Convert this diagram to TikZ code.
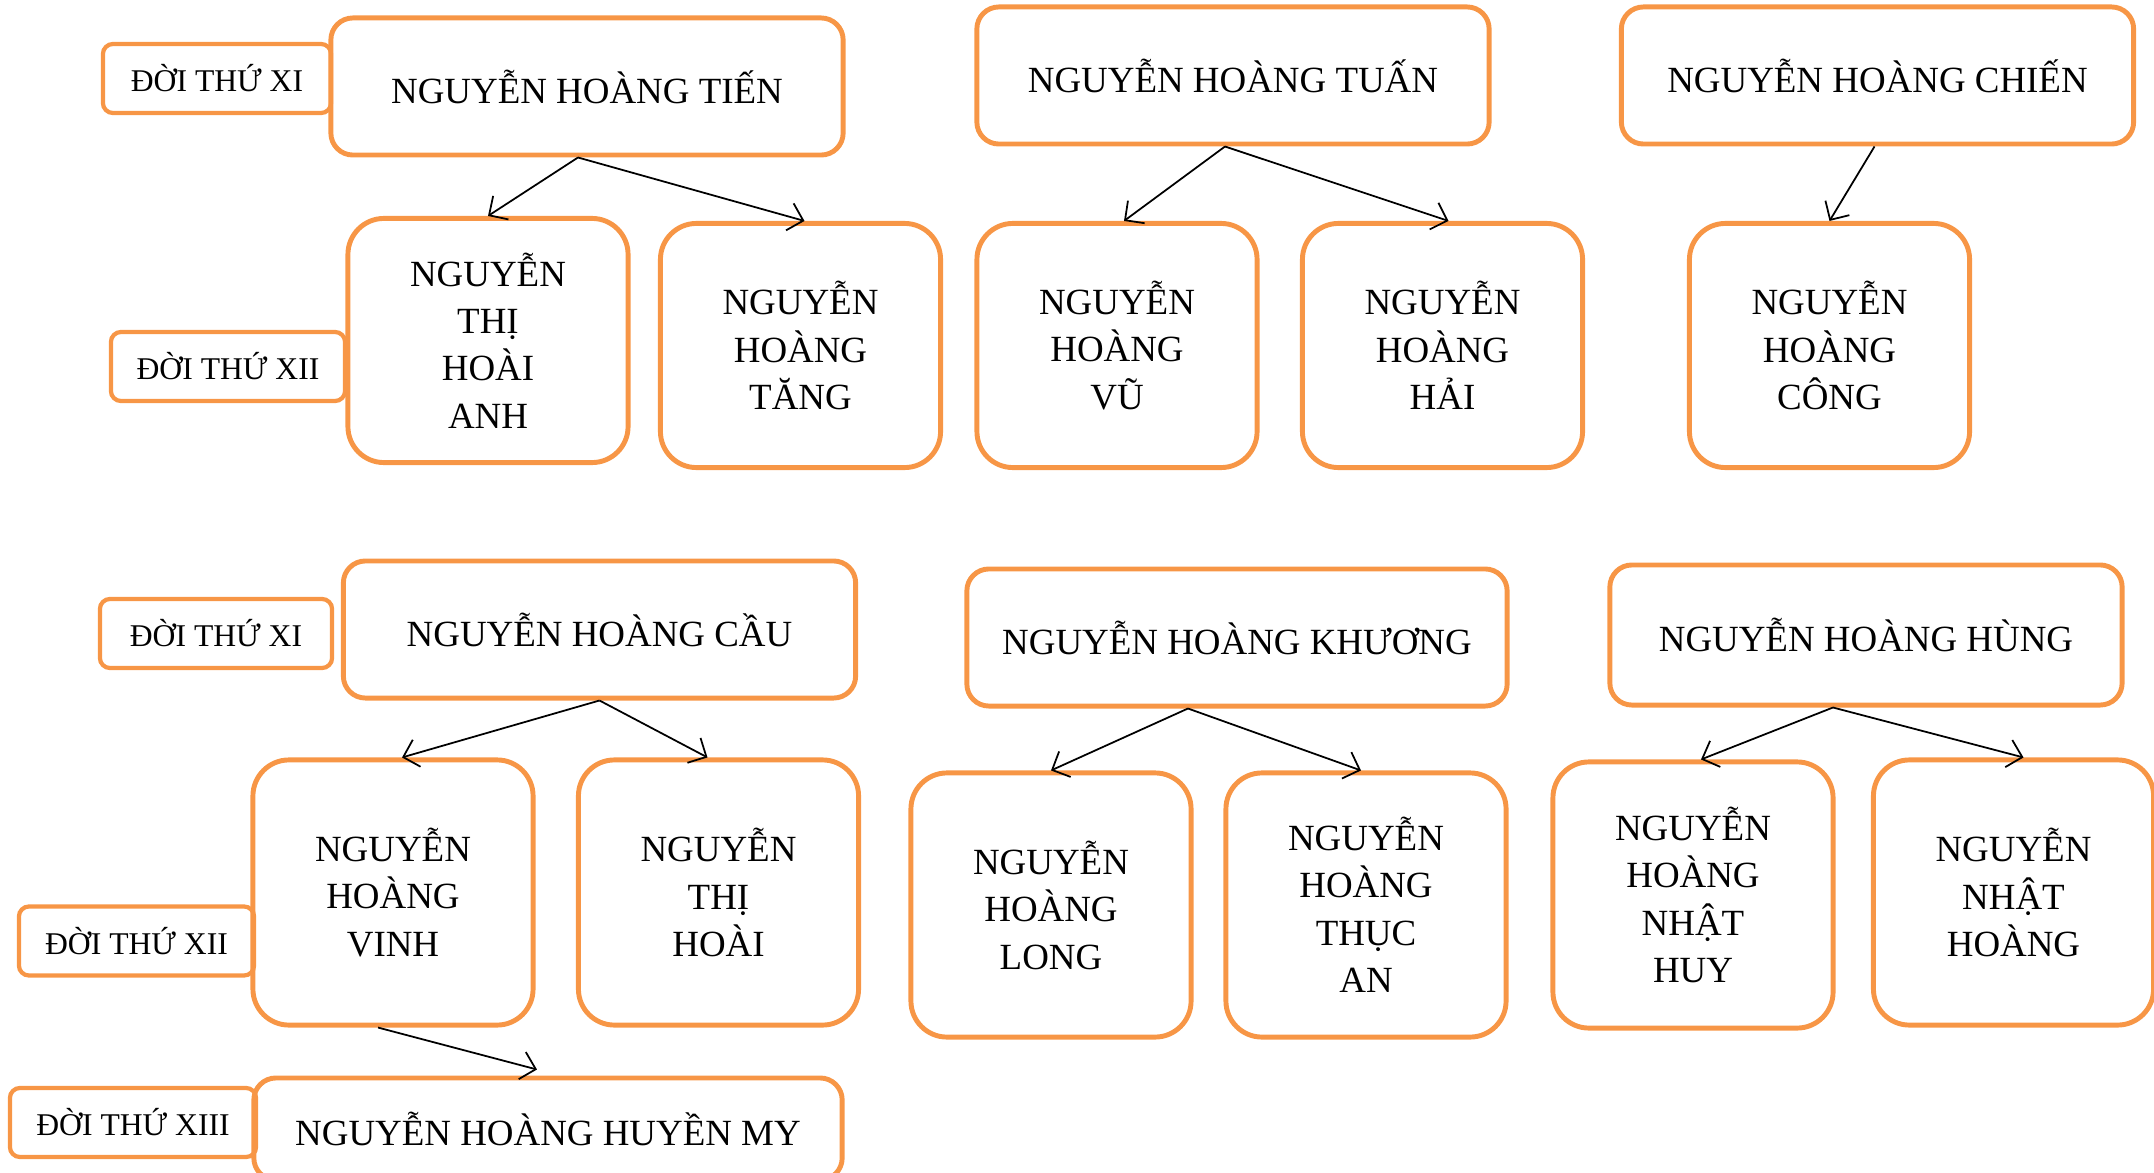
\documentclass[tikz,border=0pt]{standalone}
\usepackage{fontspec}
\setmainfont{Liberation Serif}
\usetikzlibrary{arrows.meta}
\definecolor{boxorange}{HTML}{F79646}

\begin{document}
\begin{tikzpicture}[x=0.01cm,y=-0.01cm,->,>={Straight Barb[length=1.4mm,width=2.8mm]},line width=0.5pt]
  \tikzstyle{genbox}=[draw=boxorange, line width=1.2pt, rounded corners=1mm, inner sep=0pt, minimum height=0.69cm, font=\fontsize{9}{11}\selectfont]
  \tikzstyle{widebox}=[draw=boxorange, line width=1.4pt, rounded corners=2.2mm, inner sep=0pt, minimum width=5.12cm, minimum height=1.37cm, font=\fontsize{10.5}{13.5}\selectfont]
  \tikzstyle{tallbox}=[draw=boxorange, line width=1.4pt, rounded corners=3.6mm, inner sep=0pt, minimum width=2.8cm, minimum height=2.44cm, align=center, font=\fontsize{10.5}{13.5}\selectfont]
  \useasboundingbox (0,0) rectangle (2154,1173);

  \node[genbox, minimum width=2.28cm] (gen11a) at (217,78.5) {ĐỜI THỨ XI};
  \node[genbox, minimum width=2.34cm] (gen12a) at (228,366.5) {ĐỜI THỨ XII};
  \node[genbox, minimum width=2.32cm] (gen11b) at (216,633.5) {ĐỜI THỨ XI};
  \node[genbox, minimum width=2.35cm] (gen12b) at (136.5,941) {ĐỜI THỨ XII};
  \node[genbox, minimum width=2.46cm] (gen13) at (133,1122.5) {ĐỜI THỨ XIII};

  \node[widebox] (tien) at (587,86.5) {NGUYỄN HOÀNG TIẾN};
  \node[widebox] (tuan) at (1233,75.5) {NGUYỄN HOÀNG TUẤN};
  \node[widebox] (chien) at (1877.5,75.5) {NGUYỄN HOÀNG CHIẾN};
  \node[tallbox] (anh) at (488,340.5) {NGUYỄN\\THỊ\\HOÀI\\ANH};
  \node[tallbox] (tang) at (800.5,345.5) {NGUYỄN\\HOÀNG\\TĂNG};
  \node[tallbox] (vu) at (1117,345.5) {NGUYỄN\\HOÀNG\\VŨ};
  \node[tallbox] (hai) at (1442.5,345.5) {NGUYỄN\\HOÀNG\\HẢI};
  \node[tallbox] (cong) at (1829.5,345.5) {NGUYỄN\\HOÀNG\\CÔNG};

  \node[widebox] (cau) at (599.5,629.5) {NGUYỄN HOÀNG CẦU};
  \node[widebox, minimum width=5.4cm] (khuong) at (1237,637.5) {NGUYỄN HOÀNG KHƯƠNG};
  \node[widebox, minimum height=1.4cm] (hung) at (1866,635) {NGUYỄN HOÀNG HÙNG};
  \node[tallbox, minimum height=2.65cm] (vinh) at (393,892.5) {NGUYỄN\\HOÀNG\\VINH};
  \node[tallbox, minimum height=2.65cm] (thihoai) at (718.5,892.5) {NGUYỄN\\THỊ\\HOÀI};
  \node[tallbox, minimum height=2.64cm] (long) at (1051,905) {NGUYỄN\\HOÀNG\\LONG};
  \node[tallbox, minimum height=2.64cm] (thucan) at (1366,905) {NGUYỄN\\HOÀNG\\THỤC\\AN};
  \node[tallbox, minimum height=2.66cm] (huy) at (1693,895) {NGUYỄN\\HOÀNG\\NHẬT\\HUY};
  \node[tallbox, minimum height=2.65cm] (nhathoang) at (2013.5,892.5) {NGUYỄN\\NHẬT\\HOÀNG};
  \node[widebox, minimum width=5.88cm, minimum height=1.02cm] (my) at (548,1129) {NGUYỄN HOÀNG HUYỀN MY};

  \draw ([xshift=-0.09cm]tien.south) -- (anh.north);
  \draw ([xshift=-0.09cm]tien.south) -- ([xshift=0.04cm]tang.north);
  \draw ([xshift=-0.08cm]tuan.south) -- ([xshift=0.07cm]vu.north);
  \draw ([xshift=-0.08cm]tuan.south) -- ([xshift=0.06cm]hai.north);
  \draw ([xshift=-0.03cm]chien.south) -- (cong.north);
  \draw (cau.south) -- ([xshift=0.09cm]vinh.north);
  \draw (cau.south) -- ([xshift=-0.11cm]thihoai.north);
  \draw ([xshift=-0.49cm]khuong.south) -- (long.north);
  \draw ([xshift=-0.49cm]khuong.south) -- ([xshift=-0.05cm]thucan.north);
  \draw ([xshift=-0.33cm]hung.south) -- ([xshift=0.08cm]huy.north);
  \draw ([xshift=-0.33cm]hung.south) -- ([xshift=0.1cm]nhathoang.north);
  \draw ([xshift=-0.15cm]vinh.south) -- ([xshift=-0.11cm,yshift=0.06cm]my.north);
\end{tikzpicture}
\end{document}
